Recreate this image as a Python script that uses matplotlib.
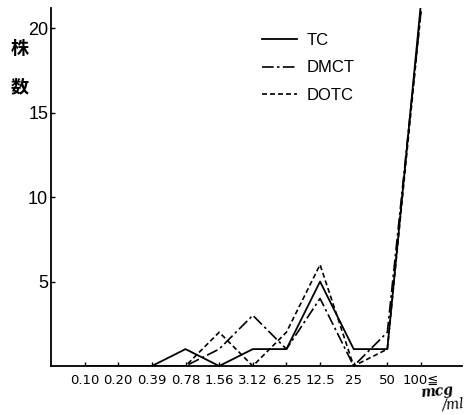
import matplotlib
matplotlib.use("Agg")
import matplotlib.pyplot as plt

# concentration classes (mcg/ml)
conc = ["0.10", "0.20", "0.39", "0.78", "1.56", "3.12", "6.25", "12.5", "25", "50", "100≦"]

# number of strains per class
tc   = [0, 0, 0, 1, 0, 1, 1, 5, 1, 1, 21.5]
dmct = [0, 0, 0, 0, 1, 3, 1, 4, 0, 2, 21]
dotc = [0, 0, 0, 0, 2, 0, 2, 6, 0, 1, 21]

plt.rcParams['font.family'] = ['Liberation Sans', 'DejaVu Sans']

fig = plt.figure(figsize=(4.65, 4.15), dpi=100)
ax = fig.add_axes([51 / 465, 1 - 366 / 415, 411 / 465, 358 / 415])

x = list(range(1, len(conc) + 1))
ax.plot(x, tc, color="black", lw=1.3, ls="-", label="TC")
ax.plot(x, dmct, color="black", lw=1.2, ls=(0, (7, 2, 1.5, 2)), label="DMCT")
ax.plot(x, dotc, color="black", lw=1.2, ls=(0, (3, 1.8)), label="DOTC")

ax.set_xlim(0, 12.22)
ax.set_ylim(0, 21.2)
ax.set_xticks(x)
ax.set_xticklabels(conc, fontsize=9.5, family=['Liberation Sans Narrow', 'DejaVu Sans'])
ax.set_yticks([5, 10, 15, 20])
ax.set_yticklabels(["5", "10", "15", "20"], fontsize=13)
ax.tick_params(axis="x", direction="in", length=3, width=1, pad=6)
ax.tick_params(axis="y", direction="in", length=3, width=1, pad=2)

for s in ["top", "right"]:
    ax.spines[s].set_visible(False)
for s in ["left", "bottom"]:
    ax.spines[s].set_linewidth(1.3)

leg = ax.legend(loc="upper left", bbox_to_anchor=(262 / 465, 1 - 33 / 415),
                bbox_transform=fig.transFigure, frameon=False, fontsize=12,
                handlelength=2.1, handletextpad=0.6, labelspacing=0.75,
                borderpad=0, borderaxespad=0)

fig.text(20 / 465, 1 - 49 / 415, "株", fontsize=13, family="Noto Sans CJK JP",
         ha="center", va="center", weight="bold")
fig.text(20 / 465, 1 - 87 / 415, "数", fontsize=13, family="Noto Sans CJK JP",
         ha="center", va="center", weight="bold")

fig.text(437 / 465, 1 - 392 / 415, "mcg", fontsize=10, family="DejaVu Serif",
         style="italic", weight="bold", ha="center", va="center", rotation=5)
fig.text(453 / 465, 1 - 405 / 415, "/ml", fontsize=10, family="DejaVu Serif",
         style="italic", ha="center", va="center", rotation=5)

fig.savefig("out.png", dpi=100)
